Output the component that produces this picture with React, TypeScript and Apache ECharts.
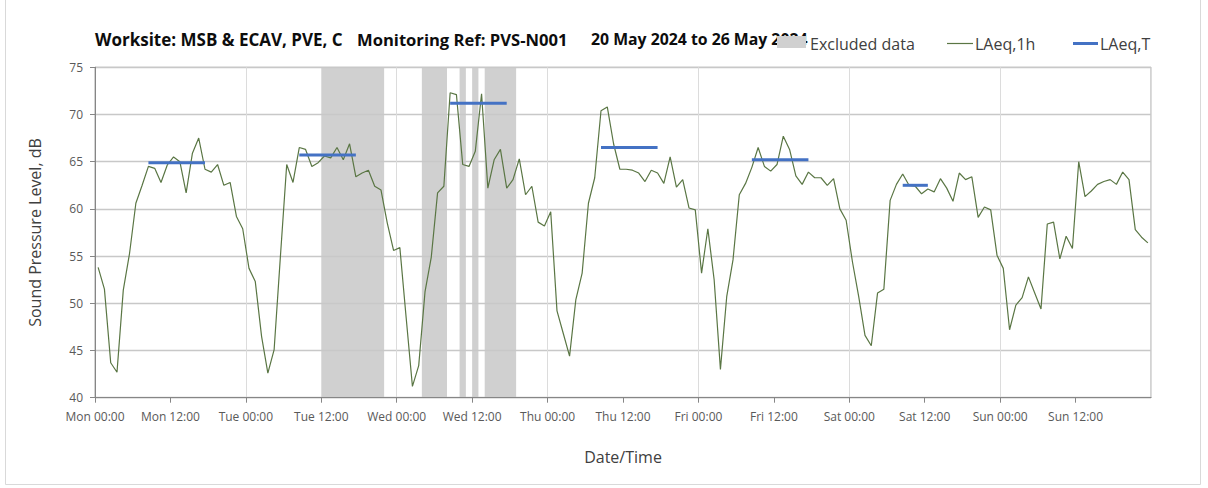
import { useEffect, useRef } from 'react';
import * as echarts from 'echarts';

const xTickLabels = [
  'Mon 00:00', 'Mon 12:00', 'Tue 00:00', 'Tue 12:00', 'Wed 00:00', 'Wed 12:00', 'Thu 00:00',
  'Thu 12:00', 'Fri 00:00', 'Fri 12:00', 'Sat 00:00', 'Sat 12:00', 'Sun 00:00', 'Sun 12:00',
];

// LAeq,1h values, one per hour starting Mon 00:00 (plotted at mid-hour)
const hourlyLAeq = [
  // Mon
  53.8, 51.5, 43.7, 42.7, 51.4, 55.3, 60.6, 62.5, 64.5, 64.3, 62.8, 64.65,
  65.5, 65.0, 61.7, 65.9, 67.5, 64.2, 63.9, 64.7, 62.5, 62.8, 59.2, 57.9,
  // Tue
  53.7, 52.3, 46.5, 42.6, 45.1, 55.0, 64.7, 62.8, 66.5, 66.3, 64.5, 64.9,
  65.6, 65.4, 66.5, 65.2, 66.9, 63.4, 63.8, 64.1, 62.4, 62.0, 58.5, 55.6,
  // Wed
  55.9, 48.5, 41.2, 43.4, 51.2, 54.9, 61.7, 62.4, 72.3, 72.1, 64.7, 64.5,
  66.1, 72.2, 62.2, 65.2, 66.3, 62.2, 63.1, 65.3, 61.5, 62.4, 58.6, 58.2,
  // Thu
  59.7, 49.2, 46.8, 44.4, 50.4, 53.2, 60.6, 63.3, 70.4, 70.8, 66.9, 64.2,
  64.2, 64.1, 63.8, 62.9, 64.1, 63.8, 62.7, 65.5, 62.3, 63.1, 60.1, 59.9,
  // Fri
  53.2, 57.9, 52.5, 43.0, 50.7, 54.6, 61.5, 62.7, 64.4, 66.5, 64.5, 64.0,
  64.7, 67.7, 66.3, 63.5, 62.6, 63.9, 63.3, 63.3, 62.5, 63.2, 60.0, 58.8,
  // Sat
  54.4, 50.7, 46.6, 45.5, 51.1, 51.5, 60.9, 62.6, 63.7, 62.5, 62.4, 61.6,
  62.1, 61.8, 63.2, 62.2, 60.8, 63.8, 63.1, 63.4, 59.1, 60.2, 59.9, 55.1,
  // Sun
  53.7, 47.2, 49.8, 50.6, 52.8, 51.1, 49.4, 58.4, 58.6, 54.7, 57.1, 55.8,
  65.0, 61.3, 61.9, 62.6, 62.9, 63.1, 62.6, 63.9, 63.1, 57.8, 57.0, 56.4,
];

// Excluded data periods (hours from Mon 00:00)
const excludedStart = [36, 52, 58, 60, 62];
const excludedEnd = [46, 56, 59, 61, 67];

// LAeq,T periods (hours from Mon 00:00) and levels
const periodStart = [8.5, 32.5, 56.5, 80.5, 104.5, 128.5];
const periodEnd = [17.5, 41.5, 65.5, 89.5, 113.5, 132.5];
const periodLAeq = [64.9, 65.7, 71.2, 66.5, 65.2, 62.5];

const FONT = '"Open Sans", "Noto Sans", sans-serif';

export default function App() {
  const ref = useRef<HTMLDivElement>(null);

  useEffect(() => {
    if (!ref.current) return;
    const chart = echarts.init(ref.current, null, { renderer: 'svg' });

    const lineData = hourlyLAeq.map((v, i) => [i + 0.5, v]);
    const bandData = excludedStart.map((s, i) => [s, excludedEnd[i]]);
    const periodData = periodStart.map((s, i) => [s, periodEnd[i], periodLAeq[i]]);

    chart.setOption({
      animation: false,
      backgroundColor: '#ffffff',
      textStyle: { fontFamily: FONT },
      grid: {
        left: 95,
        right: 57,
        top: 67.3,
        bottom: 90.3,
        show: true,
        borderColor: '#a6a6a6',
        borderWidth: 1,
        backgroundColor: 'transparent',
      },
      xAxis: [
        {
          type: 'value',
          min: 0,
          max: 168,
          interval: 12,
          name: 'Date/Time',
          nameLocation: 'middle',
          nameGap: 51,
          nameTextStyle: { fontSize: 16, color: '#404040', fontFamily: FONT },
          axisLine: { show: true, lineStyle: { color: '#868686', width: 1 } },
          axisTick: { show: true, length: 5, lineStyle: { color: '#868686' } },
          axisLabel: {
            fontSize: 12,
            color: '#595959',
            margin: 13,
            fontFamily: FONT,
            showMaxLabel: false,
            formatter: (v: number) => {
              const idx = Math.round(v / 12);
              return idx < xTickLabels.length ? xTickLabels[idx] : '';
            },
          },
          splitLine: { show: false },
        },
        {
          type: 'value',
          min: 0,
          max: 168,
          interval: 24,
          position: 'top',
          axisLine: { show: false },
          axisTick: { show: false },
          axisLabel: { show: false },
          splitLine: { show: true, lineStyle: { color: '#dcdcdc', width: 1 } },
        },
      ],
      yAxis: {
        type: 'value',
        min: 40,
        max: 75,
        interval: 5,
        name: 'Sound Pressure Level, dB',
        nameLocation: 'middle',
        nameGap: 52,
        nameTextStyle: { fontSize: 16, color: '#404040', fontFamily: FONT },
        axisLine: { show: true, lineStyle: { color: '#868686', width: 1 } },
        axisTick: { show: true, length: 5, lineStyle: { color: '#868686' } },
        axisLabel: { fontSize: 12, color: '#595959', margin: 12, fontFamily: FONT },
        splitLine: { show: true, lineStyle: { color: '#c8c8c8', width: 1.3 } },
      },
      series: [
        {
          name: 'Excluded data',
          type: 'custom',
          z: -1,
          xAxisIndex: 0,
          encode: { x: [0, 1] },
          data: bandData,
          renderItem: (params: any, api: any) => {
            const p0 = api.coord([api.value(0), 75]);
            const p1 = api.coord([api.value(1), 40]);
            return {
              type: 'rect',
              shape: { x: p0[0], y: p0[1], width: p1[0] - p0[0], height: p1[1] - p0[1] },
              style: { fill: '#d0d0d0' },
            };
          },
        },
        {
          name: 'LAeq,1h',
          type: 'line',
          xAxisIndex: 0,
          data: lineData,
          showSymbol: false,
          symbol: 'none',
          z: 3,
          lineStyle: { color: '#5a7644', width: 1.2 },
        },
        {
          name: 'LAeq,T',
          type: 'custom',
          xAxisIndex: 0,
          z: 4,
          encode: { x: [0, 1], y: 2 },
          data: periodData,
          renderItem: (params: any, api: any) => {
            const p0 = api.coord([api.value(0), api.value(2)]);
            const p1 = api.coord([api.value(1), api.value(2)]);
            return {
              type: 'line',
              shape: { x1: p0[0], y1: p0[1], x2: p1[0], y2: p1[1] },
              style: { stroke: '#4472c4', lineWidth: 3 },
            };
          },
        },
      ],
      graphic: [
        {
          type: 'rect',
          silent: true,
          z: 0,
          shape: { x: 5.5, y: -2, width: 1195, height: 486.5 },
          style: { fill: 'none', stroke: '#d9d9d9', lineWidth: 1 },
        },
        {
          type: 'text',
          x: 95,
          y: 39,
          z: 10,
          style: { text: 'Worksite: MSB & ECAV, PVE, C', font: `bold 17px ${FONT}`, fill: '#0d0d0d', verticalAlign: 'middle' },
        },
        {
          type: 'text',
          x: 357,
          y: 39,
          z: 10,
          style: { text: 'Monitoring Ref: PVS-N001', font: `bold 16.6px ${FONT}`, fill: '#0d0d0d', verticalAlign: 'middle' },
        },
        {
          type: 'text',
          x: 591,
          y: 39,
          z: 10,
          style: { text: '20 May 2024 to 26 May 2024', font: `bold 15.8px ${FONT}`, fill: '#0d0d0d', verticalAlign: 'middle' },
        },
        {
          type: 'rect',
          z: 20,
          shape: { x: 777, y: 36, width: 29, height: 12 },
          style: { fill: '#d0d0d0' },
        },
        {
          type: 'text',
          x: 810,
          y: 43.5,
          z: 20,
          style: { text: 'Excluded data', font: `16px ${FONT}`, fill: '#404040', verticalAlign: 'middle' },
        },
        {
          type: 'line',
          z: 20,
          shape: { x1: 947, y1: 43.5, x2: 973, y2: 43.5 },
          style: { stroke: '#5a7644', lineWidth: 1.2 },
        },
        {
          type: 'text',
          x: 975,
          y: 43.5,
          z: 20,
          style: { text: 'LAeq,1h', font: `16px ${FONT}`, fill: '#404040', verticalAlign: 'middle' },
        },
        {
          type: 'line',
          z: 20,
          shape: { x1: 1073, y1: 43.5, x2: 1098, y2: 43.5 },
          style: { stroke: '#4472c4', lineWidth: 3 },
        },
        {
          type: 'text',
          x: 1100,
          y: 43.5,
          z: 20,
          style: { text: 'LAeq,T', font: `16px ${FONT}`, fill: '#404040', verticalAlign: 'middle' },
        },
      ],
    });

    return () => chart.dispose();
  }, []);

  return (
    <div
      ref={ref}
      style={{ position: 'absolute', left: 0, top: 0, width: 1208, height: 488 }}
    />
  );
}
